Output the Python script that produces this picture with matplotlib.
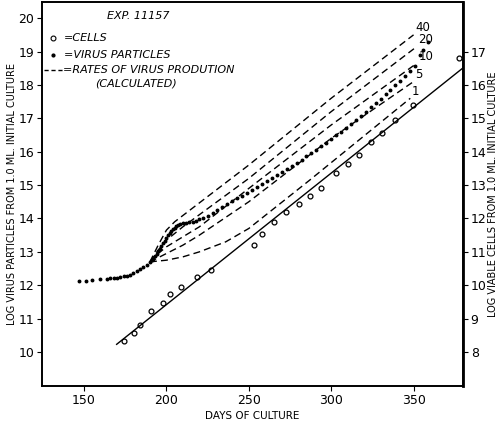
import matplotlib
matplotlib.use("Agg")
import matplotlib.pyplot as plt
import numpy as np

cell_days = [174.4,180.5,184,190.8,197.7,202.3,208.6,218.5,227.2,253.4,258.3,265.3,272.4,280.3,287.4,294,302.7,310.2,316.9,324,331,338.5,349.6,377.5]
cell_vals = [8.34,8.56,8.81,9.24,9.46,9.74,9.95,10.25,10.46,11.22,11.52,11.9,12.18,12.42,12.67,12.92,13.35,13.62,13.89,14.3,14.55,14.95,15.4,16.82]
cell_fit_days = [169.8, 379.5]
cell_fit_vals = [8.23, 16.49]

virus_days = [147,151,155,160,164,166,168,170,172,174,176,178,180,182,184,186,188,190,191,192,193,194,195,196,197,198,199,200,201,202,203,204,205,206,207,208,210,212,214,216,218,220,222,225,228,231,234,237,240,243,246,249,252,255,258,261,264,267,270,273,276,279,282,285,288,291,294,297,300,303,306,309,312,315,318,321,324,327,330,333,336,339,342,345,348,351,354,356,359]
virus_vals = [12.13,12.13,12.15,12.18,12.2,12.21,12.22,12.23,12.25,12.27,12.29,12.32,12.36,12.42,12.48,12.55,12.62,12.7,12.75,12.8,12.87,12.95,13.02,13.1,13.18,13.26,13.34,13.42,13.5,13.57,13.63,13.68,13.72,13.76,13.79,13.82,13.86,13.86,13.88,13.9,13.93,13.97,14.01,14.08,14.17,14.26,14.35,14.44,14.52,14.6,14.67,14.75,14.84,14.93,15.02,15.11,15.2,15.3,15.39,15.48,15.57,15.66,15.76,15.86,15.96,16.06,16.16,16.27,16.38,16.49,16.6,16.72,16.84,16.96,17.08,17.2,17.33,17.46,17.59,17.72,17.85,17.99,18.13,18.27,18.42,18.57,18.9,19.05,19.3]

rate_labels = ["40","20","10","5","1"]
rate_days = [[190,195,200,205,250,300,350],
             [190,195,200,210,250,300,352],
             [190,195,200,210,220,250,300,352],
             [190,200,210,220,250,300,350],
             [190,200,210,220,236,250,287,348]]
rate_vals = [[12.7,13.2,13.65,13.9,15.6,17.6,19.5],
             [12.7,13.05,13.35,13.75,15.2,17.2,19.15],
             [12.7,12.95,13.15,13.45,13.75,14.9,16.8,18.65],
             [12.7,12.95,13.2,13.5,14.5,16.4,18.1],
             [12.7,12.75,12.85,13.0,13.3,13.7,15.15,17.6]]

plt.rcParams['font.family'] = ['DejaVu Sans']
fig = plt.figure(figsize=(5, 4.28), dpi=100)
ax = fig.add_axes([0.084, 0.098, 0.842, 0.897])
ax2 = ax.twinx()

ax.plot(virus_days, virus_vals, 'o', color='black', ms=1.8, zorder=3)
for d, v, lab in zip(rate_days, rate_vals, rate_labels):
    ax.plot(d, v, '--', color='black', lw=1.0, dashes=(5, 3))
    ax.text(d[-1] + 1, v[-1] + 0.02, lab, fontsize=8.5, ha='left', va='bottom')

ax2.plot(cell_days, cell_vals, 'o', mfc='white', mec='black', ms=3.5, mew=0.9)
ax2.plot(cell_fit_days, cell_fit_vals, '-', color='black', lw=1.0)

ax.set_xlim(124.5, 380)
ax.set_ylim(8.98, 20.48)
ax2.set_ylim(6.98, 18.48)
ax.set_xticks([150, 200, 250, 300, 350])
ax.set_yticks(range(10, 21))
ax2.set_yticks(range(8, 18))
ax.tick_params(direction='out', labelsize=9, pad=2)
ax2.tick_params(direction='out', labelsize=9, pad=2)
for a in (ax, ax2):
    for s in a.spines.values():
        s.set_linewidth(1.2)
ax2.spines['right'].set_linewidth(2)
ax.set_xlabel("DAYS OF CULTURE", fontsize=7.5, labelpad=3)
ax.set_ylabel("LOG VIRUS PARTICLES FROM 1.0 ML. INITIAL CULTURE", fontsize=7, labelpad=1)
ax2.set_ylabel("LOG VIABLE CELLS FROM 1.0 ML. INITIAL CULTURE", fontsize=7, labelpad=1)

ax.text(0.155, 0.955, "EXP. 11157", transform=ax.transAxes, fontsize=8, style='italic')
ax.plot([131], [19.4], 'o', mfc='white', mec='black', ms=3.5, mew=0.8)
ax.text(138, 19.4, "=CELLS", fontsize=8, style='italic', va='center')
ax.plot([131], [18.9], 'o', color='black', ms=2.0)
ax.text(138, 18.9, "=VIRUS PARTICLES", fontsize=8, style='italic', va='center')
ax.plot([125.5, 137], [18.45, 18.45], '--', color='black', lw=1.0, dashes=(3, 2))
ax.text(137.5, 18.45, "=RATES OF VIRUS PRODUTION", fontsize=8, style='italic', va='center')
ax.text(157, 18.05, "(CALCULATED)", fontsize=8, style='italic', va='center')

fig.savefig("out.png", dpi=100)
